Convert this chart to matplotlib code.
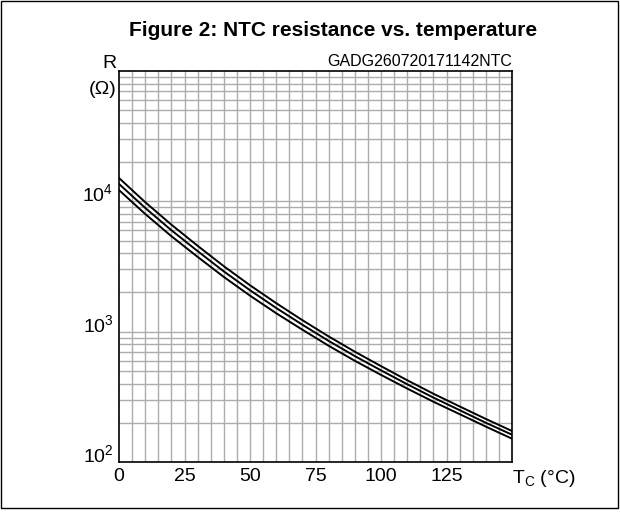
import numpy as np
import matplotlib
matplotlib.use("Agg")
import matplotlib.pyplot as plt
from matplotlib.patches import Rectangle
from matplotlib.ticker import FixedLocator, NullFormatter

plt.rcParams["font.family"] = ["Liberation Sans", "DejaVu Sans"]
plt.rcParams["mathtext.fontset"] = "custom"
plt.rcParams["mathtext.rm"] = "Liberation Sans"
plt.rcParams["mathtext.it"] = "Liberation Sans:italic"

# Case temperature (degC) and NTC resistance (ohm): max / typ / min curves
temp_c = [0, 10, 20, 30, 40, 50, 60, 70, 80, 90, 100, 110, 120, 130, 140, 150]
r_max = [15100, 9850, 6620, 4560, 3180, 2270, 1655, 1225, 920, 702, 544, 424, 334, 267, 214, 173]
r_typ = [13600, 8900, 6000, 4150, 2900, 2080, 1520, 1130, 850, 650, 505, 395, 312, 250, 200, 162]
r_min = [12200, 8000, 5400, 3750, 2630, 1890, 1385, 1035, 780, 598, 466, 366, 290, 233, 187, 151]

x_ticks = [0, 25, 50, 75, 100, 125]
y_decades = [100, 1000, 10000]
y_labels = ["$10^2$", "$10^3$", "$10^4$"]

fig = plt.figure(figsize=(6.2, 5.16), dpi=100)
ax = fig.add_axes([119 / 620, 54 / 516, 393 / 620, 391 / 516])

ax.set_yscale("log")
ax.set_xlim(0, 150)
ax.set_ylim(100, 1e5)

# grid: every 5 degC vertically, full log decades horizontally
grid_kw = dict(color="#adadad", linewidth=1.0, zorder=1)
for xv in np.arange(5, 150, 5):
    ax.axvline(xv, **grid_kw)
for dec in [100, 1000, 10000]:
    for m in range(1, 10):
        yv = dec * m
        if 100 < yv < 1e5:
            ax.axhline(yv, **grid_kw)

for r in (r_max, r_typ, r_min):
    ax.plot(temp_c, r, color="black", linewidth=1.4, zorder=3)

ax.xaxis.set_major_locator(FixedLocator(x_ticks))
ax.set_xticklabels([str(t) for t in x_ticks], fontsize=14)
ax.yaxis.set_major_locator(FixedLocator(y_decades))
ax.yaxis.set_minor_locator(FixedLocator([]))
ax.yaxis.set_minor_formatter(NullFormatter())
ax.set_yticklabels(y_labels, fontsize=14)
for lbl in ax.get_yticklabels():
    lbl.set_va("baseline")
ax.tick_params(axis="both", which="both", length=0)
ax.tick_params(axis="x", pad=4)
ax.tick_params(axis="y", pad=4)
for sp in ax.spines.values():
    sp.set_linewidth(1.2)
    sp.set_zorder(4)

ax.text(1.0, -0.015, r"T$_{\mathrm{C}}$ (°C)", transform=ax.transAxes,
        ha="left", va="top", fontsize=14)
ax.text(116 / 620, 1 - 64 / 516, "R", transform=fig.transFigure,
        ha="right", va="center", fontsize=14)
ax.text(116 / 620, 1 - 89 / 516, "(Ω)", transform=fig.transFigure,
        ha="right", va="center", fontsize=14)
ax.text(1.0, 1.006, "GADG260720171142NTC", transform=ax.transAxes,
        ha="right", va="bottom", fontsize=11.5)

fig.text(333 / 620, 1 - 30 / 516, "Figure 2: NTC resistance vs. temperature",
         ha="center", va="center", fontsize=15, fontweight="bold")

fig.patches.append(Rectangle((1 / 620, 8 / 516), 617 / 620, 507 / 516,
                             transform=fig.transFigure, fill=False,
                             edgecolor="black", linewidth=1.0))

fig.savefig("out.png", dpi=100)
